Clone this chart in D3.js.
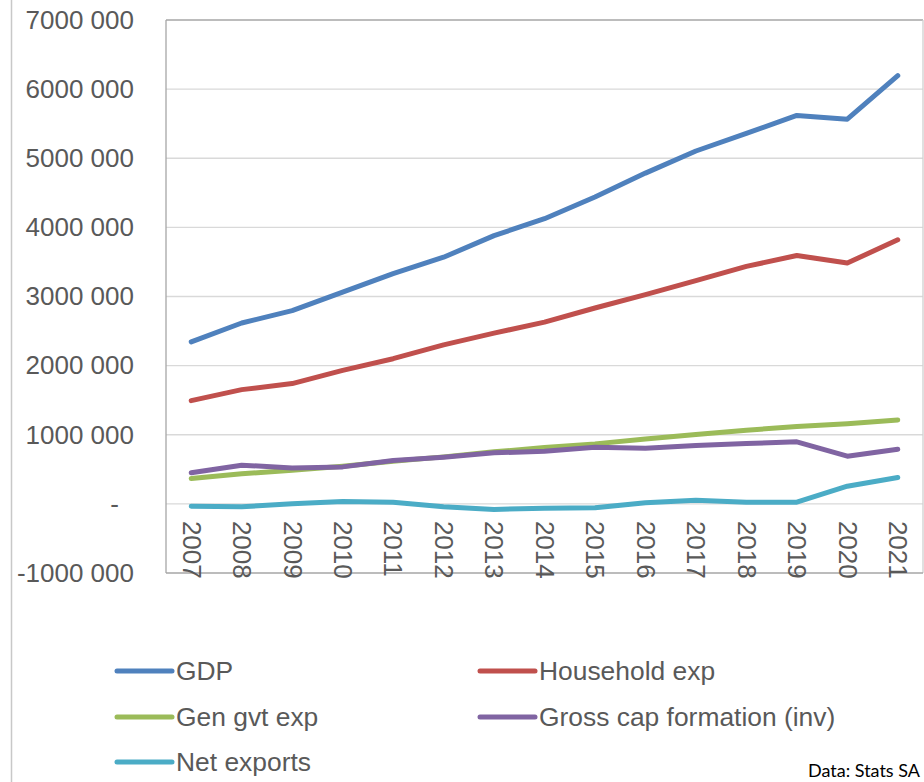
<!DOCTYPE html>
<html>
<head>
<meta charset="utf-8">
<script src="https://cdn.jsdelivr.net/npm/d3@7"></script>
<style>
  html, body { margin: 0; padding: 0; background: #ffffff; }
  svg { display: block; }
</style>
</head>
<body>
<svg id="chart" width="924" height="782"></svg>
<script>
// Expenditure components of GDP, R million, 2007-2021
const years = ["2007","2008","2009","2010","2011","2012","2013","2014","2015","2016","2017","2018","2019","2020","2021"];
const gdp          = [2343000, 2617000, 2795000, 3062000, 3330000, 3568000, 3880000, 4125000, 4440000, 4785000, 5105000, 5360000, 5620000, 5565000, 6195000];
const householdExp = [1494000, 1653000, 1740000, 1932000, 2100000, 2300000, 2470000, 2630000, 2834000, 3026000, 3230000, 3435000, 3594000, 3484000, 3820000];
const genGvtExp    = [367000, 435000, 487000, 545000, 617000, 680000, 753000, 815000, 868000, 940000, 1003000, 1065000, 1120000, 1160000, 1215000];
const grossCapForm = [449000, 560000, 520000, 535000, 627000, 675000, 738000, 761000, 820000, 805000, 844000, 873000, 897000, 690000, 790000];
const netExports   = [-33000, -42000, 1000, 35000, 25000, -42000, -80000, -64000, -57000, 15000, 54000, 25000, 25000, 256000, 381000];
const yTicks = [-1000000, 0, 1000000, 2000000, 3000000, 4000000, 5000000, 6000000, 7000000];

const series = [
  { name: "GDP", values: gdp, color: "#4f81bd" },
  { name: "Household exp", values: householdExp, color: "#c0504d" },
  { name: "Gen gvt exp", values: genGvtExp, color: "#9bbb59" },
  { name: "Gross cap formation (inv)", values: grossCapForm, color: "#8064a2" },
  { name: "Net exports", values: netExports, color: "#4bacc6" }
];

const svg = d3.select("#chart");
const font = "'Liberation Sans', Arial, sans-serif";
const plot = { left: 166, right: 923, top: 20, bottom: 573 };

const x = d3.scalePoint().domain(years).range([plot.left, plot.right]).padding(0.5);
const y = d3.scaleLinear().domain([-1000000, 7000000]).range([plot.bottom, plot.top]);

// outer frame edge on the left
svg.append("line")
  .attr("x1", 11.5).attr("x2", 11.5).attr("y1", 0).attr("y2", 782)
  .attr("stroke", "#c8c8c8").attr("stroke-width", 1.5);

// horizontal gridlines
svg.append("g").selectAll("line")
  .data(yTicks.filter(t => t > -1000000 && t < 7000000))
  .join("line")
  .attr("x1", plot.left).attr("x2", plot.right)
  .attr("y1", d => y(d)).attr("y2", d => y(d))
  .attr("stroke", "#d9d9d9").attr("stroke-width", 1.3);

// plot frame
svg.append("line")
  .attr("x1", plot.left).attr("x2", plot.right).attr("y1", plot.top).attr("y2", plot.top)
  .attr("stroke", "#a6a6a6").attr("stroke-width", 1.3);
svg.append("line")
  .attr("x1", plot.right).attr("x2", plot.right).attr("y1", plot.top).attr("y2", plot.bottom)
  .attr("stroke", "#d0d0d0").attr("stroke-width", 1.3);
svg.append("line")
  .attr("x1", plot.left).attr("x2", plot.right).attr("y1", plot.bottom).attr("y2", plot.bottom)
  .attr("stroke", "#a6a6a6").attr("stroke-width", 1.3);
svg.append("line")
  .attr("x1", plot.left).attr("x2", plot.left).attr("y1", plot.top).attr("y2", plot.bottom)
  .attr("stroke", "#a6a6a6").attr("stroke-width", 1.3);

// y axis labels
const fmt = v => {
  if (v === 0) return "-";
  const a = Math.abs(v);
  const s = Math.floor(a / 1000) + " " + String(a % 1000).padStart(3, "0");
  return (v < 0 ? "-" : "") + s;
};
const yAxis = svg.append("g")
  .attr("transform", `translate(${plot.left},0)`)
  .call(d3.axisLeft(y).tickValues(yTicks).tickFormat(fmt).tickSize(0).tickPadding(32));
yAxis.select(".domain").remove();
yAxis.selectAll("text")
  .attr("font-family", font).attr("font-size", 26).attr("fill", "#595959")
  .attr("dx", d => d === 0 ? -15 : 0);

// x axis labels, rotated, hung below the zero line
const xAxis = svg.append("g")
  .attr("transform", `translate(0,${y(0)})`)
  .call(d3.axisBottom(x).tickSize(0).tickPadding(0));
xAxis.select(".domain").remove();
xAxis.selectAll("text")
  .attr("font-family", font).attr("font-size", 26).attr("fill", "#595959")
  .attr("transform", "rotate(90)")
  .attr("text-anchor", "start")
  .attr("x", 17).attr("y", 0).attr("dy", "0.35em");

// series lines
const line = d3.line().x((d, i) => x(years[i])).y(d => y(d));
svg.append("g").selectAll("path")
  .data(series)
  .join("path")
  .attr("d", d => line(d.values))
  .attr("fill", "none")
  .attr("stroke", d => d.color)
  .attr("stroke-width", 5)
  .attr("stroke-linecap", "round")
  .attr("stroke-linejoin", "round");

// legend, two columns
const legendPos = [
  { x: 117, y: 671 }, { x: 480, y: 671 },
  { x: 117, y: 717 }, { x: 480, y: 717 },
  { x: 117, y: 762 }
];
const legend = svg.append("g").selectAll("g")
  .data(series)
  .join("g")
  .attr("transform", (d, i) => `translate(${legendPos[i].x},${legendPos[i].y})`);
legend.append("line")
  .attr("x1", 0).attr("x2", 55).attr("y1", 0).attr("y2", 0)
  .attr("stroke", d => d.color).attr("stroke-width", 5).attr("stroke-linecap", "round");
legend.append("text")
  .attr("x", 59).attr("dy", "0.35em")
  .attr("font-family", font).attr("font-size", 26.4).attr("fill", "#595959")
  .text(d => d.name);

// source note
svg.append("text")
  .attr("x", 920).attr("y", 777)
  .attr("text-anchor", "end")
  .attr("font-family", "Lato, 'Open Sans', sans-serif").attr("font-size", 18).attr("fill", "#000000")
  .text("Data: Stats SA");
</script>
</body>
</html>
